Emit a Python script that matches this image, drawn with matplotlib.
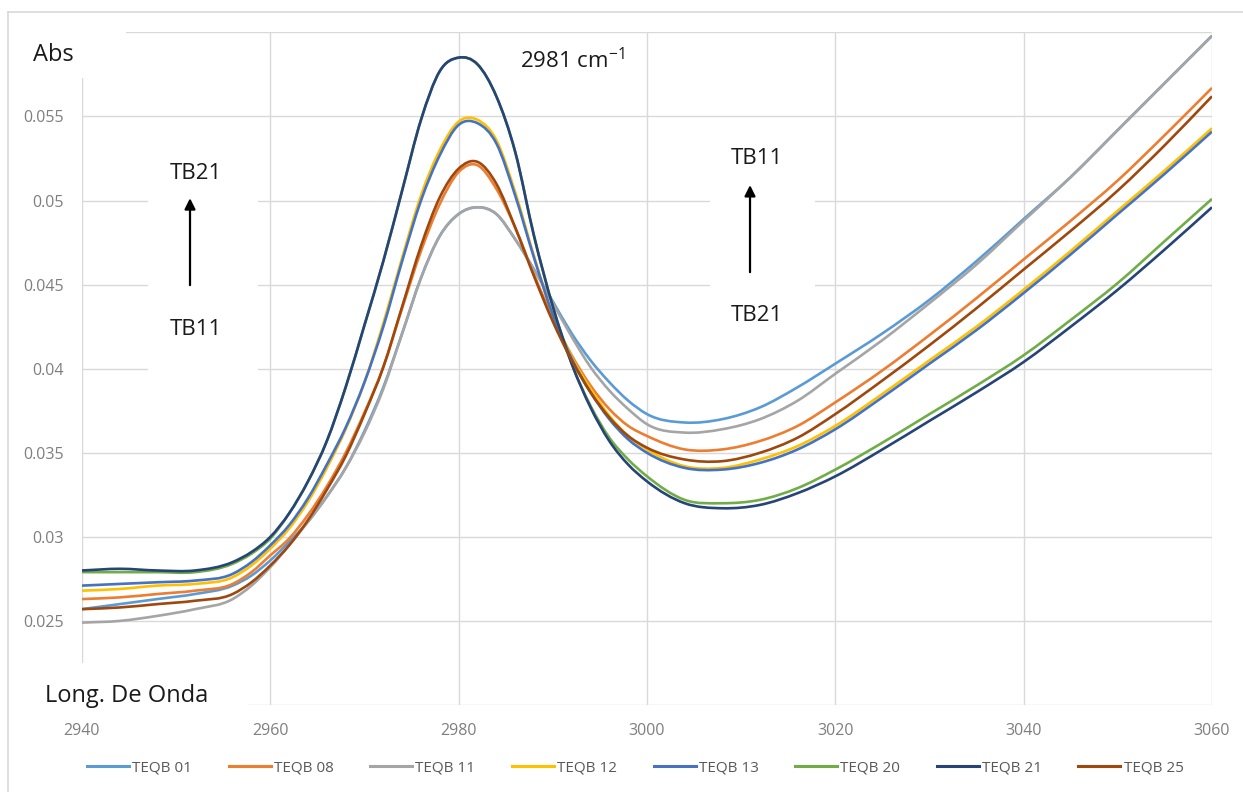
import numpy as np
import matplotlib.pyplot as plt
from matplotlib.patches import Rectangle, PathPatch
from matplotlib.lines import Line2D
from matplotlib.path import Path

plt.rcParams['font.family'] = ['Open Sans', 'DejaVu Sans']
plt.rcParams['mathtext.fontset'] = 'custom'
plt.rcParams['mathtext.rm'] = 'Open Sans'

# longitud de onda (cm-1)
wavenumber = [2940, 2944, 2948, 2952, 2956, 2958, 2960, 2962, 2964, 2966, 2968,
              2970, 2972, 2974, 2976, 2978, 2980, 2982, 2984, 2986, 2988,
              2990, 2992, 2994, 2996, 2998, 3000, 3004, 3008, 3012, 3016,
              3020, 3025, 3030, 3035, 3040, 3045, 3050, 3055, 3060]

teqb01 = [.0257, .0260, .0263, .0266, .0271, .0277, .0286, .0297, .0309, .0324, .0341,
          .0363, .0389, .0421, .0454, .0479, .0492, .0496, .0492, .0477, .0459,
          .0440, .0421, .0405, .0392, .0381, .0373, .0368, .0370, .0377, .0389,
          .0403, .0421, .0441, .0464, .0489, .0514, .0542, .0570, .0598]
teqb08 = [.0263, .0264, .0266, .0268, .0272, .0279, .0289, .0299, .0313, .0330, .0350,
          .0374, .0401, .0436, .0470, .0498, .0517, .0521, .0507, .0484, .0456,
          .0430, .0408, .0390, .0376, .0366, .0360, .0352, .0352, .0357, .0366,
          .0380, .0399, .0420, .0442, .0465, .0488, .0512, .0539, .0567]
teqb11 = [.0249, .0250, .0253, .0257, .0263, .0271, .0282, .0295, .0309, .0324, .0341,
          .0362, .0388, .0421, .0454, .0479, .0492, .0496, .0492, .0477, .0459,
          .0439, .0419, .0401, .0387, .0376, .0367, .0362, .0364, .0370, .0381,
          .0397, .0417, .0439, .0462, .0488, .0514, .0542, .0570, .0598]
teqb12 = [.0268, .0269, .0271, .0272, .0276, .0283, .0293, .0305, .0321, .0341, .0364,
          .0392, .0427, .0466, .0503, .0530, .0547, .0548, .0536, .0505, .0467,
          .0432, .0407, .0388, .0372, .0360, .0352, .0342, .0341, .0346, .0354,
          .0366, .0385, .0405, .0425, .0447, .0470, .0494, .0518, .0543]
teqb13 = [.0271, .0272, .0273, .0274, .0278, .0285, .0295, .0307, .0323, .0343, .0365,
          .0392, .0425, .0464, .0500, .0527, .0545, .0546, .0534, .0503, .0466,
          .0432, .0406, .0386, .0370, .0358, .0350, .0341, .0340, .0344, .0352,
          .0364, .0383, .0403, .0423, .0445, .0468, .0492, .0516, .0541]
teqb20 = [.0279, .0279, .0279, .0279, .0284, .0290, .0299, .0314, .0333, .0357, .0389,
          .0426, .0464, .0506, .0548, .0577, .0585, .0581, .0562, .0529, .0479,
          .0437, .0403, .0378, .0359, .0346, .0336, .0322, .0320, .0322, .0329,
          .0340, .0356, .0373, .0390, .0408, .0429, .0451, .0476, .0501]
teqb21 = [.0280, .0281, .0280, .0280, .0285, .0291, .0300, .0314, .0333, .0357, .0389,
          .0426, .0464, .0506, .0548, .0577, .0585, .0581, .0562, .0529, .0479,
          .0437, .0403, .0377, .0357, .0343, .0333, .0320, .0317, .0319, .0326,
          .0336, .0352, .0369, .0386, .0404, .0425, .0447, .0471, .0496]
teqb25 = [.0257, .0258, .0260, .0262, .0266, .0273, .0283, .0295, .0310, .0328, .0348,
          .0373, .0401, .0437, .0473, .0502, .0519, .0523, .0510, .0484, .0455,
          .0428, .0405, .0386, .0371, .0360, .0353, .0346, .0345, .0350, .0359,
          .0373, .0393, .0414, .0436, .0459, .0482, .0506, .0533, .0562]

names = ['TEQB 01', 'TEQB 08', 'TEQB 11', 'TEQB 12', 'TEQB 13', 'TEQB 20', 'TEQB 21', 'TEQB 25']
data = [teqb01, teqb08, teqb11, teqb12, teqb13, teqb20, teqb21, teqb25]
colors = ['#5B9BD5', '#ED7D31', '#A5A5A5', '#FFC000', '#4472C4', '#70AD47', '#264478', '#9E480E']

yticks = [0.02, 0.025, 0.03, 0.035, 0.04, 0.045, 0.05, 0.055, 0.06]
ylabels = ['', '0.025', '0.03', '0.035', '0.04', '0.045', '0.05', '0.055', '']


def smooth_path(x, y):
    # linea suavizada tipo Excel: segmentos Bezier cubicos por los puntos
    x = np.asarray(x, float)
    y = np.asarray(y, float)
    m = np.gradient(y, x)
    verts = [(x[0], y[0])]
    codes = [Path.MOVETO]
    for i in range(len(x) - 1):
        h = x[i + 1] - x[i]
        verts += [(x[i] + h / 3, y[i] + m[i] * h / 3),
                  (x[i + 1] - h / 3, y[i + 1] - m[i + 1] * h / 3),
                  (x[i + 1], y[i + 1])]
        codes += [Path.CURVE4] * 3
    return Path(verts, codes)


W, H = 1243, 792
fig = plt.figure(figsize=(W / 100, H / 100), dpi=100)
ax = fig.add_axes([82 / W, 1 - 705 / H, (1212 - 82) / W, (705 - 32.4) / H])

handles = []
for name, vals, c in zip(names, data, colors):
    ax.add_patch(PathPatch(smooth_path(wavenumber, vals), facecolor='none',
                           edgecolor=c, lw=1.9, zorder=2))
    handles.append(Line2D([], [], color=c, lw=2.2, label=name))

ax.set_xlim(2940, 3060)
ax.set_ylim(0.02, 0.06)
ax.set_xticks([2940, 2960, 2980, 3000, 3020, 3040, 3060])
ax.set_yticks(yticks)
ax.set_yticklabels(ylabels)
ax.grid(True, color='#D9D9D9', lw=1)
ax.set_axisbelow(True)
for s in ax.spines.values():
    s.set_visible(False)
ax.tick_params(length=0, labelsize=11.5, labelcolor='#7F7F7F')
ax.tick_params(axis='y', pad=13)
ax.tick_params(axis='x', pad=13)

# cajas blancas de los textos
ax.add_patch(Rectangle((2947.0, 0.0398), 11.7, 0.0142, facecolor='white', edgecolor='none', zorder=1.5))
ax.add_patch(Rectangle((3006.7, 0.0422), 11.1, 0.0120, facecolor='white', edgecolor='none', zorder=1.5))

txt = dict(fontsize=16, color='#1a1a1a', va='baseline', zorder=4)
ax.text(2949.35, 0.05131, 'TB21', **txt)
ax.text(2949.35, 0.0420, 'TB11', **txt)
ax.text(3008.9, 0.05216, 'TB11', **txt)
ax.text(3008.9, 0.04283, 'TB21', **txt)
ax.text(2986.5, 0.05785, '2981 cm$^{-1}$', **txt)

arrow = dict(arrowstyle='-|>', color='black', lw=1.6, mutation_scale=16, shrinkA=0, shrinkB=0)
ax.annotate('', xy=(2951.47, 0.05014), xytext=(2951.47, 0.04497), arrowprops=arrow, zorder=4)
ax.annotate('', xy=(3010.94, 0.05092), xytext=(3010.94, 0.04574), arrowprops=arrow, zorder=4)

# marco exterior
fig.add_artist(Line2D([8 / W, 8 / W], [0, 1 - 12 / H], color='#D9D9D9', lw=1.2))
fig.add_artist(Line2D([8 / W, 1], [1 - 12 / H, 1 - 12 / H], color='#D9D9D9', lw=1.2))

fig.add_artist(Rectangle((10 / W, 1 - 78 / H), 116 / W, 62 / H, transform=fig.transFigure,
                         facecolor='white', edgecolor='none', zorder=1))
fig.add_artist(Rectangle((30 / W, 1 - 714 / H), 218 / W, 51 / H, transform=fig.transFigure,
                         facecolor='white', edgecolor='none', zorder=1))
fig.text(33 / W, 1 - 61 / H, 'Abs', fontsize=17, color='#1a1a1a', va='baseline', zorder=3)
fig.text(45 / W, 1 - 702 / H, 'Long. De Onda', fontsize=17, color='#1a1a1a', va='baseline', zorder=3)

ax.legend(handles=handles, loc='center', bbox_to_anchor=(0.511, 0.030),
          bbox_transform=fig.transFigure, ncol=8, frameon=False, fontsize=11,
          handlelength=2.75, handletextpad=0.2, columnspacing=2.4, labelcolor='#595959')

fig.savefig('out.png', dpi=100)
